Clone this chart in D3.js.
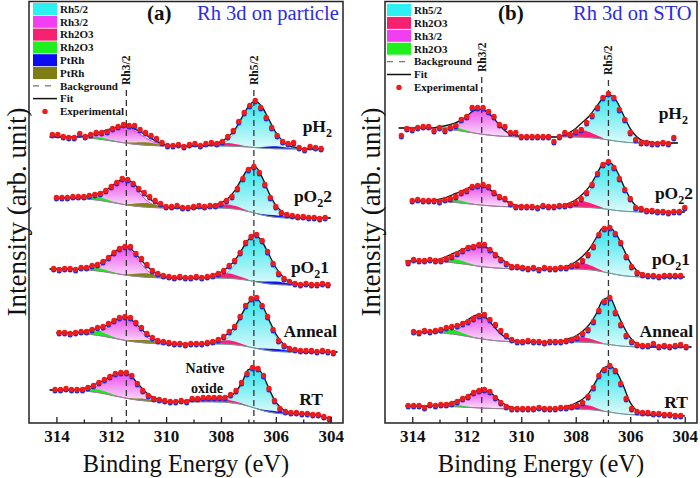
<!DOCTYPE html>
<html lang="en">
<head>
<meta charset="UTF-8">
<title>Rh 3d XPS</title>
<style>
  body { margin: 0; background: #fff; }
  svg text { font-family: "Liberation Serif", "Times New Roman", Times, serif; fill: #111; }
</style>
</head>
<body>
<script src="https://cdn.jsdelivr.net/npm/d3@7"></script>
<script>
// energy grid (eV) used by the fitted components and backgrounds
const gridE = [314.5,314.25,314,313.75,313.5,313.25,313,312.75,312.5,312.25,312,311.75,311.5,311.25,311,310.75,310.5,310.25,310,309.75,309.5,309.25,309,308.75,308.5,308.25,308,307.75,307.5,307.25,307,306.75,306.5,306.25,306,305.75,305.5,305.25,305,304.75,304.5,304.25,304,303.75,303.5];
const expStep = 0.2;
const peakPos = [311.45, 306.8];
const peakNames = ['Rh3/2', 'Rh5/2'];

// ---------- panel (a): Rh 3d on particle ----------
const labelsA = [['pH', '2', ''], ['pO', '2', '2'], ['pO', '2', '1'], ['Anneal', '', ''], ['RT', '', '']];
const offsetsA = [273, 205, 138, 71, 3];
const expStartA = [314.15, 314.0, 314.1, 313.9, 314.05];
const expA = [
  [15,15,13,12,12,16,13,15,17,17,18,21,23,25,24,24,20,17,14,11,7,4,4,5,3,5,6,4,6,7,6,8,13,19,28,37,44,49,42,32,22,14,8,6,7,2,0,3,2,1],
  [20,20,20,21,21,21,22,23,24,27,31,35,39,38,34,29,25,21,17,14,11,11,12,10,10,11,12,11,12,12,14,17,21,29,39,48,51,45,33,20,11,5,3,2,1,1,0,0,-1,0],
  [16,15,16,16,15,17,17,19,20,23,27,32,36,38,38,31,26,20,14,11,9,8,7,8,7,7,8,7,8,9,11,14,19,24,32,42,48,50,44,33,21,11,6,3,1,0,1,0,0,1,0],
  [19,19,18,19,20,20,22,24,25,28,31,34,35,34,29,24,18,14,11,10,9,8,8,7,8,8,8,9,10,12,15,20,25,35,46,53,54,46,35,22,11,6,3,2,1,1,1,0,1,0,-1],
  [30,30,31,30,30,30,32,34,37,40,43,46,47,47,44,36,29,24,21,20,19,18,18,19,18,21,21,22,22,22,22,22,25,29,37,46,52,51,44,31,19,11,8,7,7,6,6,5,5,3,1]
];
const bgA = [
  [13,13,13,13,13,12.7,12.4,11.8,11.1,10.2,9.1,8.1,7,6.1,5.4,4.8,4.5,4.2,4,4,4,4,4,4,4,4,4,3.9,3.7,3.4,3,2.4,1.9,1.5,1.2,1.1,1,1,1,1,1,1,1,1,1],
  [20,20,20,20,20,19.7,19.3,18.7,17.9,16.9,15.7,14.5,13.3,12.3,11.5,10.9,10.5,10.2,10,10,10,10,10,10,10,10,10,9.6,9,8,6.5,4.8,3,1.6,0.7,0.2,0,0,0,0,0,0,0,0,0],
  [16,16,16,16,16,15.7,15.4,14.8,14.1,13.2,12.1,11.1,10,9.1,8.4,7.8,7.5,7.2,7,7,7,7,7,7,7,7,7,6.7,6.3,5.6,4.6,3.4,2.1,1.1,0.5,0.1,0,0,0,0,0,0,0,0,0],
  [19,19,19,19,19,18.7,18.2,17.6,16.7,15.6,14.3,13,11.6,10.5,9.7,9,8.6,8.2,8,8,8,8,8,8,8,8,8,7.7,7.2,6.4,5.2,3.8,2.4,1.3,0.6,0.2,0,0,0,0,0,0,0,0,0],
  [30,30,30,30,30,29.6,29.2,28.4,27.5,26.3,24.8,23.4,22,20.8,19.8,19.1,18.6,18.2,18,18,18,18,18,18,18,18,18,17.5,16.8,15.6,13.8,11.8,9.6,7.9,6.8,6.2,6,6,6,6,5,3,1,0,0]
];
// fitted components: [start energy, heights above background on the grid]
const rh52A = [
  [308.25, [1,2,6,14,27,40,46,40,27,14,6,2,1]],
  [308.25, [1,2,6,15,29,42,46,37,22,10,4,1,0]],
  [308.25, [1,2,6,14,27,40,46,40,27,14,6,2,1]],
  [308.25, [1,2.5,6.5,15,29,43.5,50,43.5,29,15,6.5,2.5,1]],
  [308.25, [0.5,1,3,8,20,36,40,36,22,9,3,0.5,0]]
];
const rh32A = [
  [313.25, [0.2,0.6,1.8,4,7.4,11.4,14.7,16,14.7,11.4,7.4,4,1.8,0.6,0.2]],
  [313.0, [0.5,1.3,3.3,7.5,14.5,21.8,25,21.8,14.5,7.5,3.3,1.3,0.5]],
  [313.0, [0.6,1.4,3.6,8.4,16.2,24.4,28,24.4,16.2,8.4,3.6,1.4,0.6]],
  [313.0, [0.5,1.2,3,6.9,13.3,20,23,20,13.3,6.9,3,1.2,0.5]],
  [313.25, [0.3,1,2.8,6.3,11.5,17.8,23,25,21.5,14,7,3,1.2,0.4,0]]
];
const oxRedA = [
  [308.5, [0.5,1.4,2.4,3,2.4,1.4,0.5]],
  [308.5, [0.6,1.8,3.2,4,3.2,1.8,0.6]],
  [308.5, [0.8,2.3,4,5,4,2.3,0.8]],
  [308.5, [0.6,1.8,3.2,4,3.2,1.8,0.6]],
  [309.5, [0.5,1.5,2.5,3.2,3.5,3.5,3.3,2.8,2,1.2,0.5]]
];
const oxGreenA = [
  [313.25, [0.3,0.9,1.6,2,1.6,0.9,0.3]],
  [313.25, [0.5,1.4,2.4,3,2.4,1.4,0.5]],
  [313.25, [0.5,1.4,2.4,3,2.4,1.4,0.5]],
  [313.25, [0.6,1.8,3.2,4,3.2,1.8,0.6]],
  [313.25, [0.5,1.4,2.4,3,2.4,1.4,0.5]]
];
const ptrhBlueA = [
  [306.75, [0.4,1.1,2,2.5,2,1.1,0.4]],
  [306.75, [0.3,0.9,1.6,2,1.6,0.9,0.3]],
  [306.75, [0.5,1.4,2.4,3,2.4,1.4,0.5]],
  [306.75, [0.4,1.1,2,2.5,2,1.1,0.4]],
  [306.75, [0.3,0.9,1.6,2,1.6,0.9,0.3]]
];
const ptrhOliveA = [
  [311.5, [0.5,1.4,2.4,3,2.4,1.4,0.5]],
  [311.5, [0.6,1.8,3.2,4,3.2,1.8,0.6]],
  [311.5, [0.6,1.8,3.2,4,3.2,1.8,0.6]],
  [311.5, [0.5,1.4,2.4,3,2.4,1.4,0.5]],
  [311.5, [0.3,0.9,1.6,2,1.6,0.9,0.3]]
];

// ---------- panel (b): Rh 3d on STO ----------
const labelsB = labelsA;
const offsetsB = [280, 211, 146, 76, 7];
const expStartB = [314.4, 314.0, 314.15, 313.95, 314.15];
const expB = [
  [7,14,13,15,16,16,12,15,12,15,17,23,26,35,35,35,31,26,18,16,10,10,6,6,6,6,6,6,1,6,10,8,11,13,20,27,35,45,49,45,33,23,10,3,0,0,-1,-1,0,-1,5],
  [11,12,11,11,11,10,12,13,15,19,21,25,26,27,25,19,15,13,8,5,5,5,5,4,6,5,5,6,6,7,9,13,19,27,38,47,50,44,33,22,13,4,3,1,1,0,0,-1,0,0,4],
  [14,17,16,16,17,16,16,18,20,23,26,29,30,32,32,27,22,17,13,10,10,9,8,9,7,9,8,8,9,9,11,12,16,22,30,42,48,49,43,34,20,10,4,2,1,1,0,1,1,1,1],
  [15,14,16,15,16,17,19,20,21,23,25,28,31,32,27,22,16,11,7,5,5,6,5,5,4,5,5,5,6,7,9,13,17,25,36,45,49,34,22,11,5,2,1,1,3,0,1,0,1,2,0],
  [10,10,10,8,11,10,11,11,12,14,17,19,23,25,26,24,18,13,9,7,7,7,7,7,8,7,7,7,8,8,9,10,13,19,28,40,46,50,45,32,17,7,4,3,3,2,2,1,1,0,0]
];
const bgB = [
  [15,15,15,15,15,14.7,14.4,13.8,13.1,12.2,11.1,10.1,9,8.1,7.4,6.8,6.5,6.2,6,6,6,6,6,6,6,6,6,5.8,5.4,4.8,3.9,2.9,1.8,1,0.4,0.1,0,0,0,0,0,0,0,0,0],
  [11,11,11,11,11,10.8,10.6,10.2,9.7,9.1,8.4,7.7,7,6.4,5.9,5.5,5.3,5.1,5,5,5,5,5,5,5,5,5,4.8,4.5,4,3.3,2.4,1.5,0.8,0.4,0.1,0,0,0,0,0,0,0,0,0],
  [16,16,16,16,16,15.8,15.4,15,14.3,13.5,12.6,11.6,10.6,9.8,9.2,8.7,8.4,8.2,8,8,8,8,8,8,8,8,8,7.7,7.2,6.4,5.2,3.8,2.4,1.3,0.6,0.2,0,0,0,0,0,0,0,0,0],
  [15,15,15,15,15,14.7,14.3,13.7,12.9,11.9,10.7,9.5,8.3,7.3,6.5,5.9,5.5,5.2,5,5,5,5,5,5,5,5,5,4.8,4.5,4,3.3,2.4,1.5,0.8,0.4,0.1,0,0,0,0,0,0,0,0,0],
  [10,10,10,10,10,9.9,9.8,9.6,9.4,9.1,8.7,8.4,8,7.7,7.5,7.3,7.2,7.1,7,7,7,7,7,7,7,7,7,6.8,6.4,5.8,4.9,3.9,2.8,2,1.4,1.1,1,1,1,1,1,0.5,0,0,0]
];
const rh52B = [
  [308.25, [1,3,8,16,28,40,45,40,27,14,6,2,1]],
  [308.25, [1,2.5,7,16,30,44,47,40,26,13,5,2,0.5]],
  [308.25, [1,2.5,7,16,30,43,45,40,27,14,6,2,0.5]],
  [308.25, [1,2,6,14,27,43,47,34,20,9,3,1,0]],
  [308.25, [1,2,5,13,27,42,46,41,28,12,4,1,0]]
];
const oxRedB = [
  [308.5, [1,3.2,5.6,7,5.6,3.2,1]],
  [308.5, [0.9,2.7,4.8,6,4.8,2.7,0.9]],
  [308.5, [0.9,2.7,4.8,6,4.8,2.7,0.9]],
  [308.5, [0.8,2.3,4,5,4,2.3,0.8]],
  [308.5, [0.8,2.3,4,5,4,2.3,0.8]]
];
const rh32B = [
  [313.0, [0.5,1.3,3.3,7.5,14.5,21.8,25,23,17,9.5,4,1.5,0.5]],
  [313.25, [0.2,0.8,2.1,4.8,8.7,13.5,17.5,19,17.5,13.5,8.7,4.8,2.1,0.8,0.2]],
  [313.25, [0.2,0.8,2.3,5.3,9.7,14.9,19.3,21,19.3,14.9,9.7,5.3,2.3,0.8,0.2]],
  [313.0, [0.5,1.2,3.1,7.2,13.9,20.9,24,20.9,13.9,7.2,3.1,1.2,0.5]],
  [313.0, [0.4,1,2.5,5.5,10,15,18,17.5,13,7,3,1,0.3]]
];
const oxGreenB = [
  [313.25, [0.5,1.4,2.4,3,2.4,1.4,0.5]],
  [313.25, [0.5,1.4,2.4,3,2.4,1.4,0.5]],
  [313.25, [0.6,1.8,3.2,4,3.2,1.8,0.6]],
  [313.25, [0.6,1.8,3.2,4,3.2,1.8,0.6]],
  [313.25, [0.3,0.9,1.6,2,1.6,0.9,0.3]]
];

const legendA = [['Rh5/2', 'cyan'], ['Rh3/2', 'mag'], ['Rh2O3', 'red'], ['Rh2O3', 'green'], ['PtRh', 'blue'], ['PtRh', 'olive']];
const legendB = [['Rh5/2', 'cyan'], ['Rh2O3', 'red'], ['Rh3/2', 'mag'], ['Rh2O3', 'green']];
const swatch = { cyan: '#2cf0f2', mag: '#f23ef2', red: '#f5206f', green: '#1ef01e', blue: '#0c0cf4', olive: '#7e7e14' };

const serif = '"Liberation Serif", "Times New Roman", Times, serif';

const svg = d3.select('body').append('svg').attr('width', 700).attr('height', 478)
  .attr('font-family', serif);
svg.append('rect').attr('width', 700).attr('height', 478).attr('fill', '#fff');

const defs = svg.append('defs');
function vgrad(id, top, bottom) {
  const lg = defs.append('linearGradient').attr('id', id).attr('x1', 0).attr('y1', 0).attr('x2', 0).attr('y2', 1);
  lg.append('stop').attr('offset', '0%').attr('stop-color', top);
  lg.append('stop').attr('offset', '100%').attr('stop-color', bottom);
}
vgrad('gCyan', '#30e6ee', '#e0fafa');
vgrad('gMag', '#ec4eec', '#fbe2fb');

const gi = e => Math.round((gridE[0] - e) / 0.25);
const y = d3.scaleLinear().domain([0, 421]).range([423, 2]);

const panels = [
  {
    left: 29, right: 343, labels: labelsA, offsets: offsetsA, expStart: expStartA, exp: expA, bg: bgA,
    comps: [
      { data: rh52A, fill: 'url(#gCyan)', stroke: '#18d6de' },
      { data: rh32A, fill: 'url(#gMag)', stroke: '#e030e0' },
      { data: oxRedA, fill: '#ff1f78' },
      { data: oxGreenA, fill: '#18ec18' },
      { data: ptrhBlueA, fill: '#1212f2' },
      { data: ptrhOliveA, fill: '#858512' }
    ],
    legend: legendA, legX: 33, legY0: 9, legDy: 12.8,
    tag: '(a)', tagX: 147, title: 'Rh 3d on particle', titleX: 197,
    peakLabelBottom: [85, 85],
    labelPos: [[332, 132], [332, 202], [329, 273], [337, 337], [323, 405]],
    ylabX: 26
  },
  {
    left: 385, right: 697, labels: labelsB, offsets: offsetsB, expStart: expStartB, exp: expB, bg: bgB,
    comps: [
      { data: rh52B, fill: 'url(#gCyan)', stroke: '#18d6de' },
      { data: rh32B, fill: 'url(#gMag)', stroke: '#e030e0' },
      { data: oxRedB, fill: '#ff1f78' },
      { data: oxGreenB, fill: '#18ec18' }
    ],
    legend: legendB, legX: 387, legY0: 10, legDy: 12.9,
    tag: '(b)', tagX: 498, title: 'Rh 3d on STO', titleX: 573,
    peakLabelBottom: [72, 75],
    labelPos: [[688, 119], [693, 199], [690, 265], [693, 337], [688, 408]],
    ylabX: 380
  }
];

function drawPanel(p) {
  const x = d3.scaleLinear().domain([315, 303.55]).range([p.left, p.right]);
  const g = svg.append('g');
  const areaL = g.append('g'), dashL = g.append('g'), lineL = g.append('g'), ptL = g.append('g'), txtL = g.append('g');

  const area = d3.area().x(d => x(d.e)).y0(d => y(d.lo)).y1(d => y(d.hi)).curve(d3.curveMonotoneX);
  const line = d3.line().x(d => x(d.e)).y(d => y(d.v)).curve(d3.curveMonotoneX);

  p.offsets.forEach((off, s) => {
    const bg = p.bg[s];
    const total = bg.slice();
    p.comps.forEach(c => {
      const [start, vals] = c.data[s];
      const i0 = gi(start);
      const pts = vals.map((h, j) => {
        total[i0 + j] += h;
        return { e: gridE[i0 + j], lo: bg[i0 + j] + off, hi: bg[i0 + j] + h + off };
      });
      areaL.append('path').datum(pts).attr('d', area)
        .attr('fill', c.fill)
        .attr('stroke', c.stroke || 'none').attr('stroke-width', 0.9);
    });

    const e0 = p.expStart[s];
    const n = p.exp[s].length;
    const eHi = e0 + 0.2, eLo = e0 - (n - 1) * expStep - 0.2;
    const kept = gridE.map((e, i) => ({ e, b: bg[i] + off, t: total[i] + off }))
      .filter(d => d.e <= eHi && d.e >= eLo);

    lineL.append('path').datum(kept.map(d => ({ e: d.e, v: d.b }))).attr('d', line)
      .attr('fill', 'none').attr('stroke', '#8a8a8a').attr('stroke-width', 1);
    lineL.append('path').datum(kept.map(d => ({ e: d.e, v: d.t }))).attr('d', line)
      .attr('fill', 'none').attr('stroke', '#111').attr('stroke-width', 1.3);

    const pts = p.exp[s].map((v, k) => ({ e: e0 - k * expStep, v: v + off }));
    ptL.selectAll(null).data(pts).enter().append('circle')
      .attr('cx', d => x(d.e)).attr('cy', d => y(d.v) + 1).attr('r', 2.5).attr('fill', '#2a2ad0');
    ptL.selectAll(null).data(pts).enter().append('circle')
      .attr('cx', d => x(d.e)).attr('cy', d => y(d.v) - 0.6).attr('r', 2.7).attr('fill', '#ee1b1b');

    // spectrum label
    const [lx, ly] = p.labelPos[s];
    const parts = p.labels[s];
    const t = txtL.append('text').attr('x', lx).attr('y', ly).attr('text-anchor', 'end')
      .attr('font-weight', 'bold').attr('font-size', 17.5);
    t.append('tspan').text(parts[0]);
    if (parts[1]) {
      t.append('tspan').attr('font-size', 12).attr('dy', 4.5).text(parts[1]);
      if (parts[2]) t.append('tspan').attr('dy', -4.5).text(parts[2]);
    }
  });

  // peak position markers
  peakPos.forEach((e, i) => {
    const px = x(e);
    const yb = p.peakLabelBottom[i];
    dashL.append('line').attr('x1', px).attr('x2', px).attr('y1', yb + 5).attr('y2', 423)
      .attr('stroke', '#333').attr('stroke-width', 1.3).attr('stroke-dasharray', '6,4');
    txtL.append('text').attr('transform', `translate(${px + 4},${yb}) rotate(-90)`)
      .attr('font-size', 11.5).attr('font-weight', 'bold').text(peakNames[i]);
  });

  // frame
  g.append('rect').attr('x', p.left).attr('y', 1.5).attr('width', p.right - p.left).attr('height', 421.5)
    .attr('fill', 'none').attr('stroke', '#222').attr('stroke-width', 1.5);

  // x axis with inward ticks
  const major = g.append('g').attr('transform', 'translate(0,423)')
    .call(d3.axisBottom(x).tickValues([314, 312, 310, 308, 306, 304]).tickFormat(d3.format('d'))
      .tickSize(-6).tickPadding(7));
  major.attr('font-family', serif);
  major.select('.domain').remove();
  major.selectAll('.tick line').attr('stroke', '#222').attr('stroke-width', 1.3);
  major.selectAll('.tick text').attr('font-size', 17).attr('font-weight', 'bold').attr('fill', '#111');
  const minor = g.append('g').attr('transform', 'translate(0,423)')
    .call(d3.axisBottom(x).tickValues([313, 311, 309, 307, 305]).tickFormat('').tickSize(-3.5));
  minor.select('.domain').remove();
  minor.selectAll('.tick line').attr('stroke', '#222').attr('stroke-width', 1.3);

  // axis titles
  g.append('text').attr('x', (p.left + p.right) / 2).attr('y', 472).attr('text-anchor', 'middle')
    .attr('font-size', 24.5).text('Binding Energy (eV)');
  g.append('text').attr('transform', `translate(${p.ylabX},212) rotate(-90)`).attr('text-anchor', 'middle')
    .attr('font-size', 27).text('Intensity (arb. unit)');

  // header
  g.append('text').attr('x', p.tagX).attr('y', 19.5).attr('font-size', 21).attr('font-weight', 'bold').text(p.tag);
  g.append('text').attr('x', p.titleX).attr('y', 19.5).attr('font-size', 20.5).style('fill', '#2b2be8').text(p.title);

  // legend
  const lg = g.append('g');
  const rows = p.legend.length;
  p.legend.forEach(([name, key], i) => {
    const cy = p.legY0 + i * p.legDy;
    lg.append('rect').attr('x', p.legX).attr('y', cy - 6).attr('width', 24).attr('height', 12).attr('fill', swatch[key]);
    lg.append('text').attr('x', p.legX + 27).attr('y', cy + 3.8).attr('font-size', 11).attr('font-weight', 'bold').text(name);
  });
  const extra = ['Background', 'Fit', 'Experimental'];
  extra.forEach((name, j) => {
    const cy = p.legY0 + (rows + j) * p.legDy;
    if (j === 0) lg.append('line').attr('x1', p.legX).attr('x2', p.legX + 24).attr('y1', cy).attr('y2', cy)
      .attr('stroke', '#777').attr('stroke-width', 1.3).attr('stroke-dasharray', '6,6');
    if (j === 1) lg.append('line').attr('x1', p.legX).attr('x2', p.legX + 24).attr('y1', cy).attr('y2', cy)
      .attr('stroke', '#111').attr('stroke-width', 1.5);
    if (j === 2) lg.append('circle').attr('cx', p.legX + 12).attr('cy', cy).attr('r', 2.7).attr('fill', '#ee1b1b');
    lg.append('text').attr('x', p.legX + 27).attr('y', cy + 3.8).attr('font-size', 11).attr('font-weight', 'bold').text(name);
  });
}

panels.forEach(drawPanel);

// annotation in panel (a)
svg.append('text').attr('x', 205).attr('y', 373).attr('text-anchor', 'middle')
  .attr('font-size', 14).attr('font-weight', 'bold').text('Native');
svg.append('text').attr('x', 207).attr('y', 393).attr('text-anchor', 'middle')
  .attr('font-size', 14).attr('font-weight', 'bold').text('oxide');
</script>
</body>
</html>
